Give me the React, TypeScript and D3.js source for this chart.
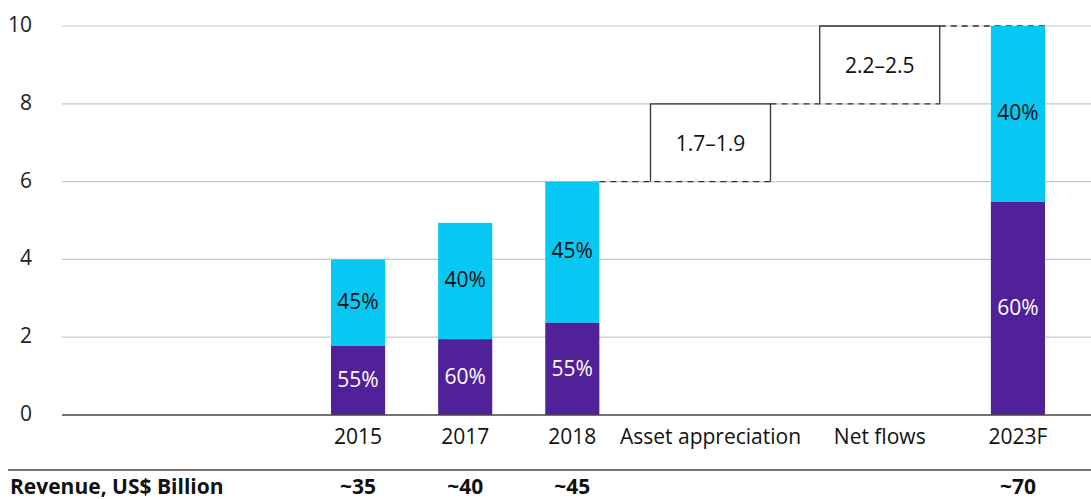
import React from "react";
import * as d3 from "d3";

// column data
const categories = ["2015", "2017", "2018", "Asset appreciation", "Net flows", "2023F"];
const columnKinds = ["bar", "bar", "bar", "step", "step", "bar"];
const purpleValues = [1.78, 1.95, 2.37, null, null, 5.48];
const totalValues = [4.0, 4.94, 6.0, null, null, 10.0];
const purpleShares = ["55%", "60%", "55%", "", "", "60%"];
const cyanShares = ["45%", "40%", "45%", "", "", "40%"];
const stepFrom = [null, null, null, 6, 8, null];
const stepTo = [null, null, null, 8, 10, null];
const stepLabels = ["", "", "", "1.7–1.9", "2.2–2.5", ""];
const revenue = ["~35", "~40", "~45", "", "", "~70"];
const yTicks = [0, 2, 4, 6, 8, 10];

const W = 1091;
const H = 499;
const FONT = "'Open Sans', 'Noto Sans', sans-serif";
const FS = 21;
const CYAN = "#06c8f2";
const PURPLE = "#51219a";

// relative slot widths per column kind
const slotUnits: Record<string, number> = { bar: 1, step: 1.58 };

export default function App() {
  const starts: number[] = [];
  let acc = 0;
  columnKinds.forEach((k) => {
    starts.push(acc);
    acc += slotUnits[k];
  });
  const x = d3.scaleLinear().domain([0, acc]).range([304.5, 1071.5]);
  const y = d3.scaleLinear().domain([0, 10]).range([415, 26]);
  const center = (i: number) => x(starts[i] + slotUnits[columnKinds[i]] / 2);
  const barW = (x(1) - x(0)) * 0.505;
  const boxW = 120;

  return (
    <svg
      width={W}
      height={H}
      style={{ position: "absolute", left: 0, top: 0, background: "#fff" }}
      fontFamily={FONT}
    >
      {/* gridlines */}
      {yTicks.map((t) => (
        <g key={t}>
          {t > 0 && (
            <line x1={62} x2={W} y1={y(t)} y2={y(t)} stroke="#c8c8c8" strokeWidth={1.2} />
          )}
          <text
            x={32}
            y={y(t) - 2}
            textAnchor="end"
            dominantBaseline="central"
            fontSize={FS}
            fill="#222"
          >
            {t}
          </text>
        </g>
      ))}

      {/* dashed connectors */}
      {categories.map((c, i) => {
        if (columnKinds[i] !== "step") return null;
        const prev = i - 1;
        const fromX =
          columnKinds[prev] === "bar" ? center(prev) + barW / 2 : center(prev) + boxW / 2;
        return (
          <line
            key={"d" + c}
            x1={fromX}
            x2={center(i) + boxW / 2}
            y1={y(stepFrom[i] as number)}
            y2={y(stepFrom[i] as number)}
            stroke="#333"
            strokeWidth={1.3}
            strokeDasharray="6,5"
          />
        );
      })}
      {categories.map((c, i) => {
        if (columnKinds[i] !== "bar" || i === 0 || columnKinds[i - 1] !== "step") return null;
        return (
          <line
            key={"e" + c}
            x1={center(i - 1) + boxW / 2}
            x2={center(i) + barW / 2}
            y1={y(stepTo[i - 1] as number)}
            y2={y(stepTo[i - 1] as number)}
            stroke="#333"
            strokeWidth={1.3}
            strokeDasharray="6,5"
          />
        );
      })}

      {/* stacked bars */}
      {categories.map((c, i) => {
        if (columnKinds[i] !== "bar") return null;
        const cx = center(i);
        const p = purpleValues[i] as number;
        const t = totalValues[i] as number;
        return (
          <g key={c}>
            <rect x={cx - barW / 2} y={y(t)} width={barW} height={y(p) - y(t)} fill={CYAN} />
            <rect x={cx - barW / 2} y={y(p)} width={barW} height={y(0) - y(p)} fill={PURPLE} />
            <text
              x={cx}
              y={y((p + t) / 2) - 2}
              textAnchor="middle"
              dominantBaseline="central"
              fontSize={FS}
              fill="#111"
            >
              {cyanShares[i]}
            </text>
            <text
              x={cx}
              y={y(p / 2) - 1}
              textAnchor="middle"
              dominantBaseline="central"
              fontSize={FS}
              fill="#fff"
            >
              {purpleShares[i]}
            </text>
          </g>
        );
      })}

      {/* step boxes */}
      {categories.map((c, i) => {
        if (columnKinds[i] !== "step") return null;
        const cx = center(i);
        const y0 = y(stepFrom[i] as number);
        const y1 = y(stepTo[i] as number);
        return (
          <g key={"s" + c}>
            <path
              d={`M${cx - boxW / 2},${y0}V${y1}H${cx + boxW / 2}V${y0}`}
              fill="none"
              stroke="#333"
              strokeWidth={1.3}
            />
            <text
              x={cx}
              y={(y0 + y1) / 2}
              textAnchor="middle"
              dominantBaseline="central"
              fontSize={FS}
              fill="#111"
            >
              {stepLabels[i]}
            </text>
          </g>
        );
      })}

      {/* baseline */}
      <line x1={62} x2={W} y1={y(0)} y2={y(0)} stroke="#444" strokeWidth={1.3} />

      {/* category labels */}
      {categories.map((c, i) => (
        <text
          key={"l" + c}
          x={center(i)}
          y={436}
          textAnchor="middle"
          dominantBaseline="central"
          fontSize={FS}
          fill="#111"
        >
          {c}
        </text>
      ))}

      {/* revenue row */}
      <line x1={8} x2={W} y1={470} y2={470} stroke="#444" strokeWidth={1.3} />
      <text x={10} y={486} dominantBaseline="central" fontSize={FS} fontWeight="bold" fill="#111">
        Revenue, US$ Billion
      </text>
      {revenue.map((r, i) =>
        r ? (
          <text
            key={"r" + i}
            x={center(i)}
            y={486}
            textAnchor="middle"
            dominantBaseline="central"
            fontSize={FS}
            fontWeight="bold"
            fill="#111"
          >
            {r}
          </text>
        ) : null
      )}
    </svg>
  );
}
